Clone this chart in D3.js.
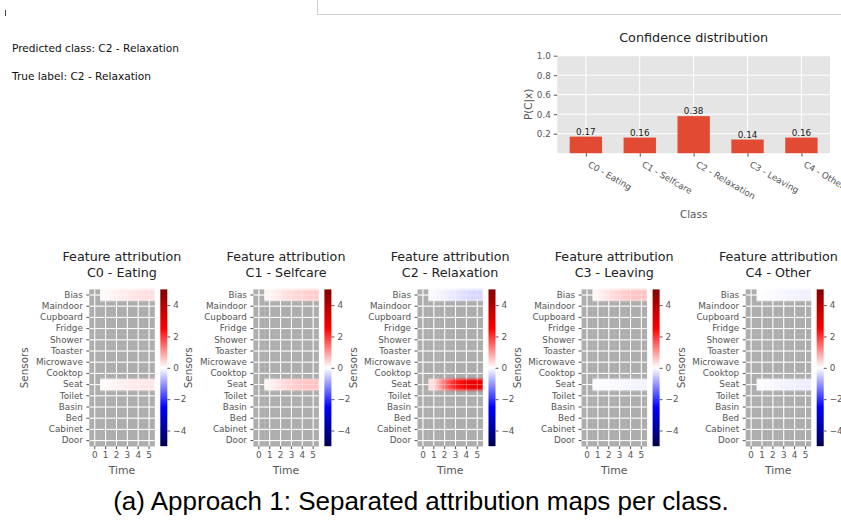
<!DOCTYPE html>
<html>
<head>
<meta charset="utf-8">
<script src="https://cdn.jsdelivr.net/npm/d3@7"></script>
<style>
  html, body { margin: 0; padding: 0; background: #fff; }
  svg { display: block; font-family: "DejaVu Sans", sans-serif; }
</style>
</head>
<body>
<svg id="fig" width="841" height="522"></svg>
<script>
// ---- data ----
const classes = ["C0 - Eating", "C1 - Selfcare", "C2 - Relaxation", "C3 - Leaving", "C4 - Other"];
const confidence = [0.17, 0.16, 0.38, 0.14, 0.16];
const confidenceTicks = [0.2, 0.4, 0.6, 0.8, 1.0];

const sensors = ["Bias", "Maindoor", "Cupboard", "Fridge", "Shower", "Toaster", "Microwave",
                 "Cooktop", "Seat", "Toilet", "Basin", "Bed", "Cabinet", "Door"];
const timeSteps = [0, 1, 2, 3, 4, 5];
const colorbarTicks = [-4, -2, 0, 2, 4];

// attribution per class over time steps (null = masked / inactive)
const biasAttribution = [
  [null, 0.05, 0.15, 0.22, 0.28, 0.32],
  [null, 0.10, 0.25, 0.35, 0.42, 0.50],
  [null, -0.05, -0.15, -0.25, -0.35, -0.40],
  [null, 0.10, 0.30, 0.45, 0.55, 0.60],
  [null, -0.02, -0.05, -0.10, -0.12, -0.15]
];
const seatAttribution = [
  [null, 0.05, 0.12, 0.18, 0.22, 0.25],
  [null, 0.10, 0.30, 0.45, 0.55, 0.60],
  [null, 0.30, 1.40, 2.20, 2.70, 3.00],
  [null, -0.02, -0.05, -0.08, -0.10, -0.12],
  [null, -0.03, -0.08, -0.12, -0.15, -0.18]
];

const predictedText = "Predicted class: C2 - Relaxation";
const trueText = "True label: C2 - Relaxation";
const caption = "(a) Approach 1: Separated attribution maps per class.";

// ---- drawing ----
const svg = d3.select("#fig");
const defs = svg.append("defs");
const tickGray = "#555555";
const minus = v => String(v).replace("-", "\u2212");

// seismic colormap over [-5, 5]
const seismic = d3.scaleLinear()
  .domain([-5, -2.5, 0, 2.5, 5])
  .range(["rgb(0,0,77)", "rgb(0,0,255)", "rgb(255,255,255)", "rgb(255,0,0)", "rgb(128,0,0)"])
  .interpolate(d3.interpolateRgb);

// notebook frame remnants
svg.append("line").attr("x1", 5.5).attr("x2", 5.5).attr("y1", 10).attr("y2", 16)
  .attr("stroke", "#444").attr("stroke-width", 1);
svg.append("path").attr("d", "M317.5,0 V14.5 H841")
  .attr("fill", "none").attr("stroke", "#cfcfcf").attr("stroke-width", 1);

// header text
svg.append("text").attr("x", 12).attr("y", 52).attr("font-size", 10.6).attr("fill", "#111").text(predictedText);
svg.append("text").attr("x", 12).attr("y", 80).attr("font-size", 10.6).attr("fill", "#111").text(trueText);

// ---- confidence bar chart ----
const ax = { left: 557.3, right: 830, top: 55.7, bottom: 153.2 };
const xBar = d3.scaleLinear().domain([-0.53, classes.length - 1 + 0.53]).range([ax.left, ax.right]);
const yBar = d3.scaleLinear().domain([0, 1]).range([ax.bottom, ax.top]);
const barG = svg.append("g");

barG.append("rect").attr("x", ax.left).attr("y", ax.top)
  .attr("width", ax.right - ax.left).attr("height", ax.bottom - ax.top).attr("fill", "#E5E5E5");
barG.selectAll(".hg").data(confidenceTicks).join("line")
  .attr("x1", ax.left).attr("x2", ax.right)
  .attr("y1", d => yBar(d)).attr("y2", d => yBar(d))
  .attr("stroke", "#fff").attr("stroke-width", 1);
barG.selectAll(".vg").data(classes).join("line")
  .attr("x1", (d, i) => xBar(i)).attr("x2", (d, i) => xBar(i))
  .attr("y1", ax.top).attr("y2", ax.bottom)
  .attr("stroke", "#fff").attr("stroke-width", 1);

barG.selectAll(".bar").data(confidence).join("rect")
  .attr("x", (d, i) => xBar(i - 0.3))
  .attr("width", (d, i) => xBar(i + 0.3) - xBar(i - 0.3))
  .attr("y", d => yBar(d))
  .attr("height", d => yBar(0) - yBar(d))
  .attr("fill", "#E24A33");

barG.selectAll(".val").data(confidence).join("text")
  .attr("x", (d, i) => xBar(i)).attr("y", d => yBar(d) - 2)
  .attr("text-anchor", "middle").attr("font-size", 8.8).attr("fill", "#222")
  .text(d => d.toFixed(2));

const yAxisBar = barG.append("g").attr("transform", `translate(${ax.left},0)`)
  .call(d3.axisLeft(yBar).tickValues(confidenceTicks).tickFormat(d3.format(".1f")).tickSize(3.5).tickPadding(3));
const xAxisBar = barG.append("g").attr("transform", `translate(0,${ax.bottom})`)
  .call(d3.axisBottom(xBar).tickValues(d3.range(classes.length)).tickFormat(i => classes[i]).tickSize(3.5).tickPadding(3));
[yAxisBar, xAxisBar].forEach(g => {
  g.select(".domain").remove();
  g.selectAll(".tick line").attr("stroke", tickGray);
  g.selectAll(".tick text").attr("fill", tickGray).attr("font-size", 8.8).attr("font-family", "DejaVu Sans");
});
xAxisBar.selectAll(".tick text")
  .attr("text-anchor", "start").attr("dy", null).attr("y", 0)
  .attr("transform", "translate(1,13) rotate(30)");

barG.append("text").attr("x", (ax.left + ax.right) / 2).attr("y", 41.5)
  .attr("text-anchor", "middle").attr("font-size", 12.8).attr("fill", "#222").text("Confidence distribution");
barG.append("text").attr("transform", `translate(532,${(ax.top + ax.bottom) / 2}) rotate(-90)`)
  .attr("text-anchor", "middle").attr("font-size", 10.4).attr("fill", tickGray).text("P(C|x)");
barG.append("text").attr("x", (ax.left + ax.right) / 2).attr("y", 218)
  .attr("text-anchor", "middle").attr("font-size", 10.4).attr("fill", tickGray).text("Class");

// ---- attribution heatmaps ----
const hmTop = 289.4, hmBottom = 446.2, hmWidth = 65.2;

// shared colorbar gradient
const cbGrad = defs.append("linearGradient").attr("id", "cbGrad")
  .attr("x1", 0).attr("y1", 1).attr("x2", 0).attr("y2", 0);
d3.range(-5, 5.01, 0.5).forEach(v => {
  cbGrad.append("stop").attr("offset", (v + 5) / 10).attr("stop-color", seismic(v));
});

const soft = defs.append("filter").attr("id", "soft")
  .attr("x", "-5%").attr("y", "-40%").attr("width", "110%").attr("height", "180%");
soft.append("feGaussianBlur").attr("stdDeviation", "0.3 1.0");

classes.forEach((cls, ci) => {
  const L = 89.3 + ci * 164.1;
  const g = svg.append("g");
  const xT = d3.scaleBand().domain(timeSteps).range([L, L + hmWidth]);
  const yS = d3.scaleBand().domain(sensors).range([hmTop, hmBottom]);

  // rows: null cells gray, active cells coloured
  const rows = sensors.map(s => {
    if (s === "Bias") return biasAttribution[ci];
    if (s === "Seat") return seatAttribution[ci];
    return timeSteps.map(() => null);
  });
  const cells = [];
  rows.forEach((vals, ri) => vals.forEach((v, ti) => cells.push({ s: sensors[ri], t: timeSteps[ti], v })));

  g.selectAll(".nan").data(cells.filter(c => c.v === null)).join("rect")
    .attr("x", d => xT(d.t)).attr("y", d => yS(d.s))
    .attr("width", xT.bandwidth() + 0.3).attr("height", yS.bandwidth() + 0.3)
    .attr("fill", "#ADADAD");

  // white grid through cell centres
  const grid = gg => {
    gg.selectAll(".gx").data(timeSteps).join("line")
      .attr("x1", d => xT(d) + xT.bandwidth() / 2).attr("x2", d => xT(d) + xT.bandwidth() / 2)
      .attr("y1", hmTop).attr("y2", hmBottom);
    gg.selectAll(".gy").data(sensors).join("line")
      .attr("x1", L).attr("x2", L + hmWidth)
      .attr("y1", d => yS(d) + yS.bandwidth() / 2).attr("y2", d => yS(d) + yS.bandwidth() / 2);
  };
  grid(g.append("g").attr("stroke", "#fff").attr("stroke-width", 1));

  // active rows as smoothly interpolated bands
  const bands = g.append("g").attr("filter", "url(#soft)");
  rows.forEach((vals, ri) => {
    const active = timeSteps.filter((t, ti) => vals[ti] !== null);
    if (!active.length) return;
    const x0 = xT(active[0]), x1 = xT(active[active.length - 1]) + xT.bandwidth();
    const gid = `band${ci}_${ri}`;
    const grad = defs.append("linearGradient").attr("id", gid)
      .attr("gradientUnits", "userSpaceOnUse")
      .attr("x1", x0).attr("x2", x1).attr("y1", 0).attr("y2", 0);
    grad.append("stop").attr("offset", 0).attr("stop-color", seismic(vals[timeSteps.indexOf(active[0])]));
    active.forEach(t => {
      const cx = xT(t) + xT.bandwidth() / 2;
      grad.append("stop").attr("offset", (cx - x0) / (x1 - x0)).attr("stop-color", seismic(vals[timeSteps.indexOf(t)]));
    });
    grad.append("stop").attr("offset", 1).attr("stop-color", seismic(vals[timeSteps.indexOf(active[active.length - 1])]));
    bands.append("rect").attr("x", x0).attr("y", yS(sensors[ri]))
      .attr("width", x1 - x0).attr("height", yS.bandwidth())
      .attr("fill", `url(#${gid})`);
  });
  grid(g.append("g").attr("stroke", "#fff").attr("stroke-width", 1).attr("stroke-opacity", 0.3));

  // axes
  const yAx = g.append("g").attr("transform", `translate(${L},0)`)
    .call(d3.axisLeft(yS).tickSize(3).tickPadding(3.5));
  const xAx = g.append("g").attr("transform", `translate(0,${hmBottom})`)
    .call(d3.axisBottom(xT).tickSize(3).tickPadding(3));
  [yAx, xAx].forEach(a => {
    a.select(".domain").remove();
    a.selectAll(".tick line").attr("stroke", tickGray);
    a.selectAll(".tick text").attr("fill", tickGray).attr("font-size", 8.8).attr("font-family", "DejaVu Sans");
  });

  // titles and labels
  const cx = L + hmWidth / 2;
  g.append("text").attr("x", cx).attr("y", 261.3).attr("text-anchor", "middle")
    .attr("font-size", 12.7).attr("fill", "#222").text("Feature attribution");
  g.append("text").attr("x", cx).attr("y", 277).attr("text-anchor", "middle")
    .attr("font-size", 12.7).attr("fill", "#222").text(cls);
  g.append("text").attr("x", cx).attr("y", 474).attr("text-anchor", "middle")
    .attr("font-size", 10.8).attr("fill", tickGray).text("Time");
  g.append("text").attr("transform", `translate(${L - 61},${(hmTop + hmBottom) / 2}) rotate(-90)`)
    .attr("text-anchor", "middle").attr("font-size", 10.4).attr("fill", tickGray).text("Sensors");

  // colorbar
  const cbX = L + 71, cbW = 7;
  const cScale = d3.scaleLinear().domain([-5, 5]).range([hmBottom, hmTop]);
  g.append("rect").attr("x", cbX).attr("y", hmTop).attr("width", cbW).attr("height", hmBottom - hmTop)
    .attr("fill", "url(#cbGrad)");
  const cAx = g.append("g").attr("transform", `translate(${cbX + cbW},0)`)
    .call(d3.axisRight(cScale).tickValues(colorbarTicks).tickFormat(minus).tickSize(3).tickPadding(3));
  cAx.select(".domain").remove();
  cAx.selectAll(".tick line").attr("stroke", tickGray);
  cAx.selectAll(".tick text").attr("fill", tickGray).attr("font-size", 8.8).attr("font-family", "DejaVu Sans");
});

// caption
svg.append("text").attr("x", 421).attr("y", 510).attr("text-anchor", "middle")
  .style("font-family", "'Liberation Sans', Arial, sans-serif").attr("font-size", 26)
  .attr("fill", "#000").text(caption);
</script>
</body>
</html>
